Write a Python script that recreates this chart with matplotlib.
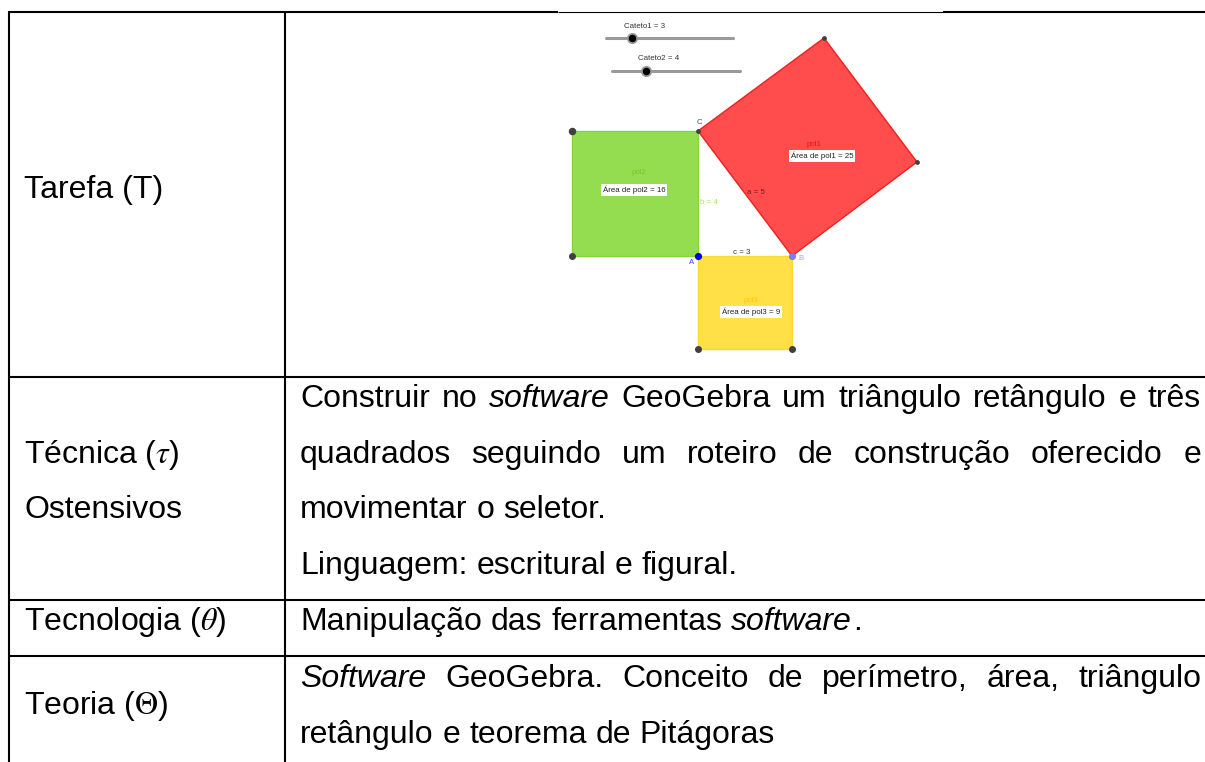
import matplotlib
matplotlib.use('Agg')
import matplotlib.pyplot as plt
from matplotlib.patches import Polygon

plt.rcParams['font.family'] = ['Liberation Sans', 'DejaVu Sans']
plt.rcParams['mathtext.fontset'] = 'stix'

W = 1205
H = 762
FS = 23.0
SMALL = 5.7

# table rules
rows_y = [377, 600, 656]
cols_x = [9, 285]

# left column, y is the text baseline
row_labels = ['Tarefa (T)', 'Técnica ($\\tau$)', 'Ostensivos', 'Tecnologia ($\\theta$)', 'Teoria ($\\Theta$)']
row_labels_y = [198, 463, 518, 630, 714]

# right column, justified lines stretch to the cell edge
body_lines = [
    ['Construir', 'no', 'software', 'GeoGebra', 'um', 'triângulo', 'retângulo', 'e', 'três'],
    ['quadrados', 'seguindo', 'um', 'roteiro', 'de', 'construção', 'oferecido', 'e'],
    ['movimentar', 'o', 'seletor.'],
    ['Linguagem:', 'escritural', 'e', 'figural.'],
    ['Manipulação', 'das', 'ferramentas', 'software.'],
    ['Software', 'GeoGebra.', 'Conceito', 'de', 'perímetro,', 'área,', 'triângulo'],
    ['retângulo', 'e', 'teorema', 'de', 'Pitágoras'],
]
body_y = [407, 463, 518, 574, 630, 687, 743]
body_justified = [True, True, False, False, False, True, False]
italic_words = ['software', 'software.', 'Software']

# geogebra figure
pol1 = [(698, 131), (824, 38), (917, 162), (792, 256)]
pol2 = [(572, 131), (698, 131), (698, 256), (572, 256)]
pol3 = [(698, 256), (792, 256), (792, 349), (698, 349)]
dark_points = [(824, 38), (917, 162), (572, 131), (698, 131), (572, 256), (698, 349), (792, 349)]
dark_sizes = [4.8, 4.8, 7.5, 4.8, 7, 7, 7]

sliders = [('Cateto1 = 3', 606, 733, 38, 632, 645, 26), ('Cateto2 = 4', 612, 740, 71, 646, 659, 59)]

area_labels = [('Área de pol1 = 25', 822, 156), ('Área de pol2 = 16', 634, 190), ('Área de pol3 = 9', 751, 312)]
poly_names = [('pol1', 814, 144, '#f01010'), ('pol2', 639, 173, '#78c828'), ('pol3', 751, 300, '#ffc800')]
edge_labels = [('a = 5', 756, 192, '#7a1a1a'), ('b = 4', 709, 203, '#a6e060'), ('c = 3', 742, 252, '#333333'),
               ('A', 692, 263, '#4040ff'), ('B', 801, 258, '#a0a0ff'), ('C', 699, 122, '#555555')]

fig = plt.figure(figsize=(W / 100, H / 100), dpi=100)
ax = fig.add_axes([0, 0, 1, 1])
ax.set_xlim(0, W)
ax.set_ylim(H, 0)
ax.axis('off')

# rules
lw = 1.5
ax.plot([9, 558], [12, 12], color='black', lw=lw, solid_capstyle='butt')
ax.plot([943, W], [12, 12], color='black', lw=lw, solid_capstyle='butt')
ax.plot([558, 943], [11.5, 11.5], color='black', lw=0.8, solid_capstyle='butt')
for y in rows_y:
    ax.plot([9, W], [y, y], color='black', lw=lw, solid_capstyle='butt')
for x in cols_x:
    ax.plot([x, x], [11, H], color='black', lw=lw, solid_capstyle='butt')

for s, y in zip(row_labels, row_labels_y):
    ax.text(24, y, s, fontsize=FS, va='baseline', ha='left')

# measure the words so the justified lines can be spread out
fig.canvas.draw()
rend = fig.canvas.get_renderer()


def word_w(w, style='normal'):
    t = ax.text(0, 0, w, fontsize=FS, style=style)
    b = t.get_window_extent(rend).width
    t.remove()
    return b


left = 300
right = 1201
space = word_w('a b') - word_w('a') - word_w('b')
for words, y, just in zip(body_lines, body_y, body_justified):
    widths = []
    for w in words:
        if w == 'software.':
            widths.append(word_w('software', 'italic') + word_w('.') + 1)
        elif w in italic_words:
            widths.append(word_w(w, 'italic'))
        else:
            widths.append(word_w(w))
    gap = (right - left - sum(widths)) / (len(words) - 1) if just else space
    x = left
    for w, ww in zip(words, widths):
        if w == 'software.':
            # only the word is italic, the full stop is upright
            ax.text(x, y, 'software', fontsize=FS, style='italic', va='baseline', ha='left')
            ax.text(x + ww - word_w('.'), y, '.', fontsize=FS, va='baseline', ha='left')
        else:
            ax.text(x, y, w, fontsize=FS, va='baseline', ha='left',
                    style='italic' if w in italic_words else 'normal')
        x += ww + gap

# squares
ax.add_patch(Polygon(pol1, closed=True, fc='#ff4c4c', ec='#f02020', lw=1))
ax.add_patch(Polygon(pol2, closed=True, fc='#94dd50', ec='#86d43c', lw=1))
ax.add_patch(Polygon(pol3, closed=True, fc='#ffe047', ec='#ffd92e', lw=1))

for (x, y), s in zip(dark_points, dark_sizes):
    ax.plot(x, y, 'o', color='#404040', ms=s * 0.72, mew=0)
ax.plot(698, 256, 'o', color='#0000e0', ms=5.2, mew=0)
ax.plot(792, 256, 'o', color='#7d7df5', mec='#6a6ad0', ms=4.6, mew=0.4)

for name, x0, x1, y, knob, lx, ly in sliders:
    ax.plot([x0, x1], [y, y], color='#999999', lw=2.2, solid_capstyle='round')
    ax.plot(knob, y, 'o', color='#999999', ms=8, mew=0)
    ax.plot(knob, y, 'o', color='black', ms=5.4, mew=0)
    ax.text(lx, ly, name, fontsize=SMALL, ha='center', va='center', color='#333333')

for s, x, y, c in poly_names:
    ax.text(x, y, s, fontsize=SMALL, ha='center', va='center', color=c)
for s, x, y in area_labels:
    ax.text(x, y, s, fontsize=SMALL, ha='center', va='center', color='#222222',
            bbox=dict(fc='white', ec='none', pad=1.3))
for s, x, y, c in edge_labels:
    ax.text(x, y, s, fontsize=SMALL, ha='center', va='center', color=c)

fig.savefig('out.png', dpi=100)
